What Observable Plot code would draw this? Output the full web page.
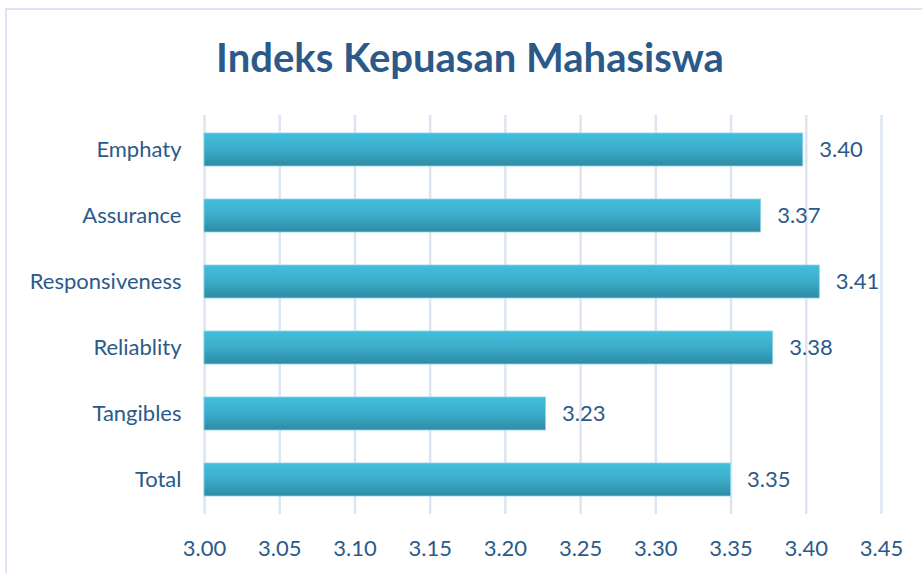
<!DOCTYPE html>
<html>
<head>
<meta charset="utf-8">
<script src="https://cdn.jsdelivr.net/npm/d3@7"></script>
<script src="https://cdn.jsdelivr.net/npm/@observablehq/plot@0.6"></script>
<style>
  html, body { margin: 0; padding: 0; background: #fff; width: 922px; height: 573px; overflow: hidden; font-family: Lato, "Open Sans", sans-serif; }
  #frame { position: absolute; left: 5px; top: 8px; width: 960px; height: 620px; border: 2px solid #DCE6F2; box-sizing: border-box; }
  #title { position: absolute; left: 0; top: 31px; width: 940px; text-align: center; font-size: 40px; font-weight: bold; color: #2B5A8A; margin: 0; line-height: 52px; }
  #chart { position: absolute; left: 0; top: 90px; }
</style>
</head>
<body>
<div id="frame"></div>
<h1 id="title">Indeks Kepuasan Mahasiswa</h1>
<div id="chart"></div>
<script>
const categories = ["Emphaty", "Assurance", "Responsiveness", "Reliablity", "Tangibles", "Total"];
const values = [3.398, 3.370, 3.409, 3.378, 3.227, 3.350];
const valueLabels = ["3.40", "3.37", "3.41", "3.38", "3.23", "3.35"];
const xTicks = [3.00, 3.05, 3.10, 3.15, 3.20, 3.25, 3.30, 3.35, 3.40, 3.45];

const data = categories.map((c, i) => ({category: c, value: values[i], label: valueLabels[i]}));
const textColor = "#2B5A8A";

const plot = Plot.plot({
  width: 922,
  height: 483,
  marginTop: 25,
  marginBottom: 59,
  marginLeft: 204,
  marginRight: 41,
  style: {fontFamily: "Lato, 'Open Sans', sans-serif", fontSize: "22px", color: textColor, background: "transparent"},
  x: {domain: [3.0, 3.45], ticks: xTicks, tickFormat: d => d.toFixed(2), tickSize: 0, tickPadding: 26, label: null},
  y: {domain: categories, paddingInner: 0.5, paddingOuter: 0.25, label: null, tickSize: 0, tickPadding: 23},
  marks: [
    Plot.ruleX(xTicks, {stroke: "#DCE6F2", strokeWidth: 2.5}),
    Plot.barX(data, {y: "category", x1: 3.0, x2: "value", fill: "url(#barGrad)", stroke: "#8FD3E8", strokeWidth: 0.8}),
    Plot.text(data, {y: "category", x: "value", text: "label", textAnchor: "start", dx: 16, fill: textColor, fontSize: 22})
  ]
});

const ns = "http://www.w3.org/2000/svg";
const defs = document.createElementNS(ns, "defs");
defs.innerHTML = `<linearGradient id="barGrad" x1="0" y1="0" x2="0" y2="1">
  <stop offset="0" stop-color="#42BEDD"/>
  <stop offset="0.45" stop-color="#3CAFCC"/>
  <stop offset="1" stop-color="#2E8BA4"/>
</linearGradient>`;
plot.insertBefore(defs, plot.firstChild);
plot.querySelectorAll("text").forEach(t => { if (!t.getAttribute("fill")) t.setAttribute("fill", textColor); });
document.getElementById("chart").appendChild(plot);
</script>
</body>
</html>
